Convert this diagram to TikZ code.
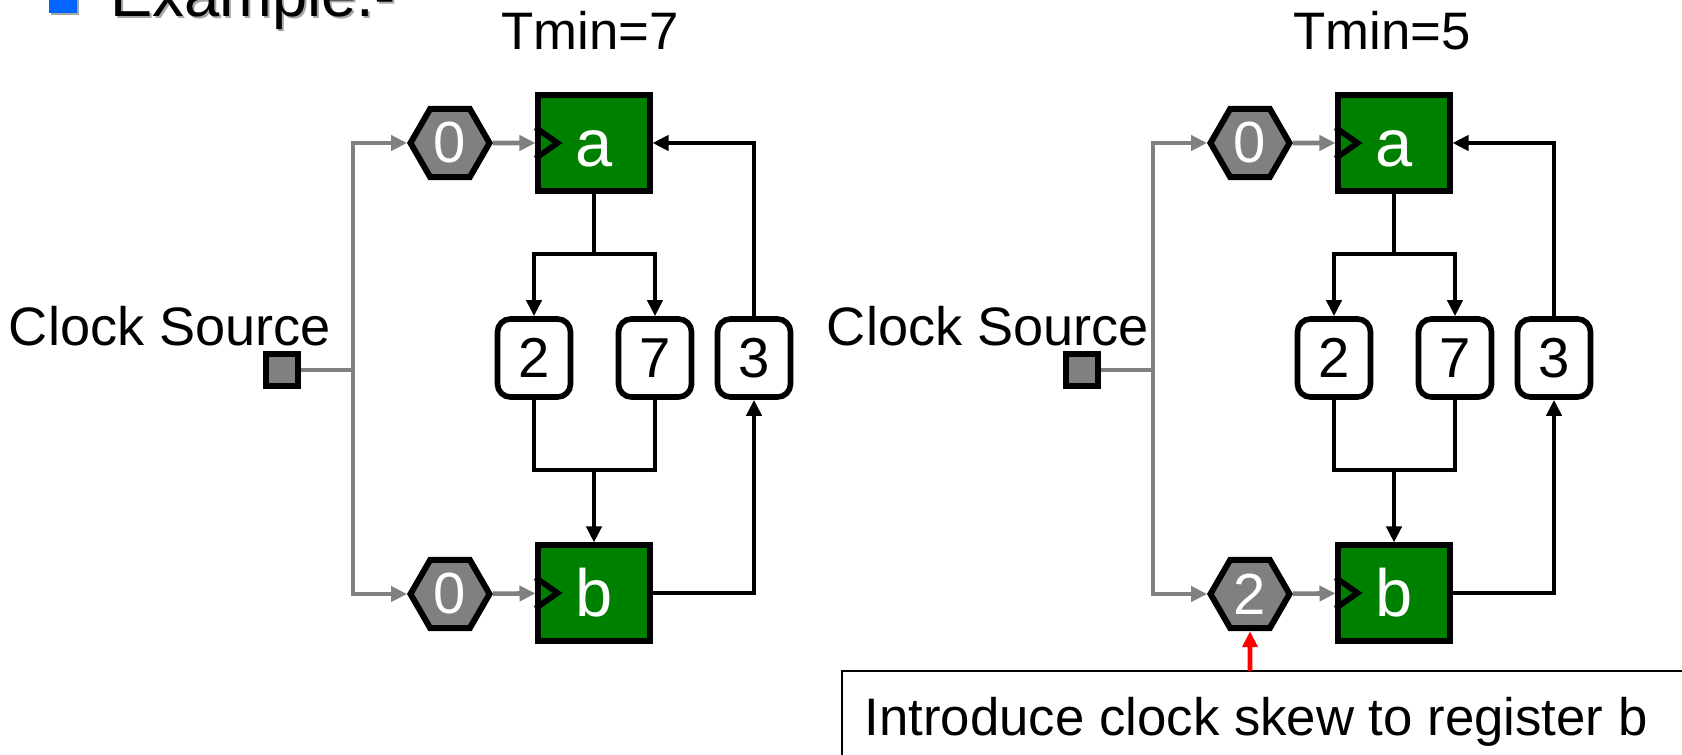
\documentclass[tikz,border=0pt]{standalone}
\usepackage{fontspec}
\setmainfont{Liberation Sans}
\usetikzlibrary{arrows.meta,positioning,shapes.geometric}
\definecolor{regGreen}{RGB}{0,128,0}
\definecolor{clkGray}{RGB}{128,128,128}
\definecolor{bulletBlue}{RGB}{0,102,255}

\begin{document}
\begin{tikzpicture}[x=0.01cm,y=-0.01cm,
  reg/.style={draw,fill=regGreen,line width=1.7pt,minimum width=1.11cm,minimum height=0.95cm,inner sep=0pt,text=white,text height=13.6pt,text depth=0pt,font=\fontsize{19}{19}\selectfont},
  dly/.style={draw,fill=white,rounded corners=0.13cm,line width=1.6pt,minimum width=0.73cm,minimum height=0.78cm,inner sep=0pt,font=\fontsize{16}{16}\selectfont},
  dlyhex/.style={regular polygon,regular polygon sides=6,draw,fill=clkGray,line width=1.7pt,minimum size=0.79cm,inner sep=0pt,text=white,font=\fontsize{16.5}{16.5}\selectfont},
  src/.style={draw,fill=clkGray,line width=1.6pt,minimum size=0.32cm,inner sep=0pt},
  clk/.style={clkGray,line width=1.3pt},
  wire/.style={black,line width=1.3pt},
  arr/.style={-{Triangle[length=0.16cm,width=0.15cm]}},
  lbl/.style={font=\fontsize{15}{15}\selectfont,anchor=base,inner sep=0pt}
]
  \useasboundingbox (0,0) rectangle (1682,755);
  % Slide heading, cut at the top
  \fill[black!35] (51,-13) rectangle (79,15);
  \fill[bulletBlue] (49,-15) rectangle (77,13);
  \node[lbl,anchor=base west,font=\fontsize{18}{18}\selectfont,text=black!35] (exshadow) at (112,19) {Example.-};
  \node[lbl,anchor=base west,font=\fontsize{18}{18}\selectfont] (example) at (110,17) {Example.-};
  %
  % Two circuits: without and with skew
  \foreach \p/\dx/\tm/\sk/\cx/\tx in {L/0/7/0/170/590,R/800/5/2/988/1382}{
    \node[lbl] (tmin\p) at (\tx,50) {Tmin=\tm};
    \node[lbl,font=\fontsize{15.4}{15.4}\selectfont] (srclbl\p) at (\cx,346) {Clock Source};
    % clock source and skew buffers
    \node[src] (src\p) at (282+\dx,370) {};
    \node[dlyhex] (hexa\p) at (450+\dx,143) {0};
    \node[dlyhex] (hexb\p) at (450+\dx,594) {\sk};
    % registers
    \node[reg] (rega\p) at (594+\dx,143) {a};
    \node[reg] (regb\p) at (594+\dx,593) {b};
    \foreach \r in {rega\p,regb\p}
      \draw[line width=1.6pt] ([yshift=0.155cm]\r.west) -- ([xshift=0.22cm]\r.west) -- ([yshift=-0.155cm]\r.west);
    % logic delays
    \node[dly] (dtwo\p) at (534+\dx,358) {2};
    \node[dly] (dseven\p) at (655+\dx,358) {7};
    \node[dly] (dthree\p) at (754+\dx,358) {3};
    % clock tree
    \coordinate (trunk\p) at (353+\dx,370);
    \draw[clk] (src\p) -- (trunk\p);
    \draw[clk,arr] (trunk\p) |- (hexa\p);
    \draw[clk,arr] (trunk\p) |- (hexb\p);
    \draw[clk,arr] (hexa\p) -- (rega\p);
    \draw[clk,arr] (hexb\p) -- (regb\p);
    % data paths
    \coordinate (split\p) at (594+\dx,254);
    \coordinate (join\p) at (594+\dx,470);
    \draw[wire] (rega\p) -- (split\p);
    \draw[wire,arr] (split\p) -| (dtwo\p);
    \draw[wire,arr] (split\p) -| (dseven\p);
    \draw[wire] (dtwo\p) |- (join\p) -| (dseven\p);
    \draw[wire,arr] (join\p) -- (regb\p);
    \draw[wire,arr] (regb\p) -| (dthree\p);
    \draw[wire,arr] (dthree\p) |- (rega\p);
  }
  %
  % Note on the added skew
  \draw[line width=0.6pt] (842,671) rectangle (1720,800);
  \node[lbl,anchor=base west] (note) at (864,735) {Introduce clock skew to register b};
  \coordinate (notetop) at (1250,671);
  \draw[red,line width=1.3pt,arr] (notetop) -- (hexbR);
\end{tikzpicture}
\end{document}
